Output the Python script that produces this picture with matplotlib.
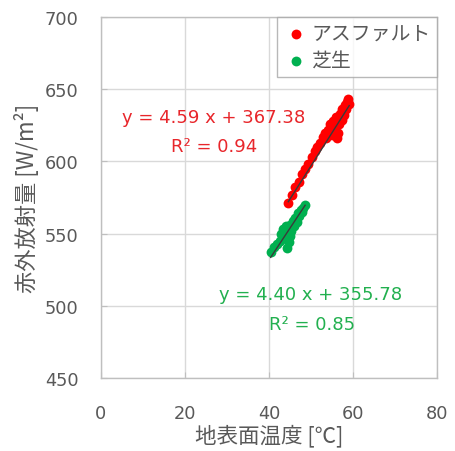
import matplotlib
matplotlib.use("Agg")
import matplotlib.pyplot as plt
import numpy as np

plt.rcParams['font.family'] = ['DejaVu Sans', 'Noto Sans CJK JP']

# ---- data ----
asphalt_temp = [44.6, 45.5, 46.3, 47.1, 47.8, 48.6, 49.4, 50.2, 50.9, 51.5, 52.2, 52.8,
                53.3, 53.6, 54.1, 54.5, 54.9, 55.2, 55.6, 55.9, 56.2, 56.4, 56.7, 57.0,
                57.3, 57.5, 57.8, 58.0, 58.3, 58.5, 58.8, 59.1]
asphalt_rad = [571, 577, 582, 586, 591, 595, 598, 603, 607, 610, 613, 617,
               620, 616, 622, 626, 618, 628, 623, 631, 616, 620, 626, 633,
               629, 636, 632, 639, 636, 641, 643, 640]

grass_temp = [40.4, 41.3, 42.0, 42.6, 42.9, 43.3, 43.6, 43.8, 44.0, 44.3, 44.4, 44.8,
              45.0, 45.1, 45.3, 45.6, 45.9, 46.2, 46.6, 46.9, 47.2, 47.6, 47.9, 48.2, 48.6]
grass_rad = [537, 541, 543, 545, 550, 553, 547, 548, 555, 540, 550, 544,
             556, 548, 552, 559, 555, 561, 558, 564, 562, 566, 565, 568, 570]

asphalt_fit = (4.59, 367.38)
grass_fit = (4.40, 355.78)
asphalt_eq = "y = 4.59 x + 367.38"
asphalt_r2 = "R² = 0.94"
grass_eq = "y = 4.40 x + 355.78"
grass_r2 = "R² = 0.85"

series_names = ["アスファルト", "芝生"]
x_ticks = [0, 20, 40, 60, 80]
y_ticks = [450, 500, 550, 600, 650, 700]
x_label = "地表面温度 [℃]"
y_label = "赤外放射量 [W/m²]"

RED = "#FF0000"
GREEN = "#00B050"
GRAY = "#595959"
CJK = ['Noto Sans CJK JP', 'DejaVu Sans']

fig = plt.figure(figsize=(4.56, 4.52), dpi=100)
ax = fig.add_axes([101/456, 73/452, 336/456, 361/452])

ax.scatter(asphalt_temp, asphalt_rad, s=50, color=RED, zorder=3, label=series_names[0], linewidths=0)
ax.scatter(grass_temp, grass_rad, s=50, color=GREEN, zorder=3, label=series_names[1], linewidths=0)

for temps, fit in ((asphalt_temp, asphalt_fit), (grass_temp, grass_fit)):
    xs = np.array([min(temps), max(temps)])
    ax.plot(xs, fit[0] * xs + fit[1], color="#3a3a3a", lw=1.0, zorder=4)

ax.set_xlim(0, 80)
ax.set_ylim(450, 700)
ax.set_xticks(x_ticks)
ax.set_yticks(y_ticks)
ax.grid(True, color="#d9d9d9", lw=1.0, zorder=0)
ax.set_axisbelow(True)
for sp in ax.spines.values():
    sp.set_color("#bfbfbf")
    sp.set_linewidth(1.0)
ax.tick_params(axis='both', colors="#bfbfbf", labelcolor=GRAY, labelsize=12.8, direction='in', length=4)
ax.tick_params(axis='x', pad=19)
ax.tick_params(axis='y', pad=16)

ax.set_xlabel(x_label, fontsize=15.5, color=GRAY, labelpad=1, family=CJK)
ax.set_ylabel(y_label, fontsize=16, color=GRAY, labelpad=4, family=CJK)

ax.text(26.7, 630.7, asphalt_eq, color="#E8262B", fontsize=13, ha='center', va='center')
ax.text(26.9, 610.7, asphalt_r2, color="#E8262B", fontsize=13, ha='center', va='center')
ax.text(50.0, 508.2, grass_eq, color="#22B04F", fontsize=13, ha='center', va='center')
ax.text(50.2, 487.4, grass_r2, color="#22B04F", fontsize=13, ha='center', va='center')

leg = ax.legend(loc='upper right', frameon=True, fancybox=False,
                borderaxespad=0, handletextpad=0.15, handlelength=1.3, markerscale=1.0,
                borderpad=0.3, labelspacing=0.3, labelcolor=GRAY, prop={'family': CJK, 'size': 14.3})
leg.get_frame().set_edgecolor("#a6a6a6")
leg.get_frame().set_linewidth(1.0)

fig.savefig("out.png", dpi=100)
